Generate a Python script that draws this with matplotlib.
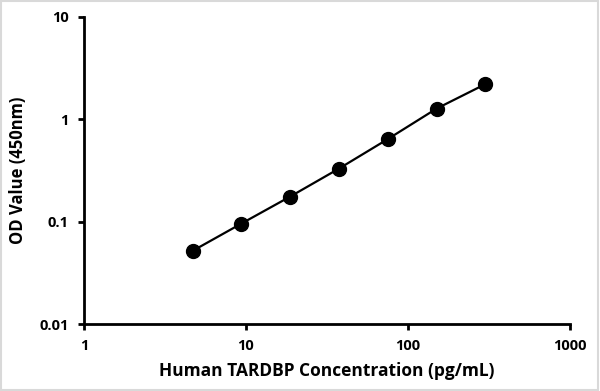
import matplotlib.pyplot as plt
from matplotlib.ticker import FixedLocator, NullLocator, FixedFormatter

# standard curve data
conc = [4.69, 9.38, 18.75, 37.5, 75, 150, 300]
od = [0.052, 0.096, 0.176, 0.33, 0.64, 1.27, 2.2]

x_ticks = [1, 10, 100, 1000]
x_labels = ['1', '10', '100', '1000']
y_ticks = [0.01, 0.1, 1, 10]
y_labels = ['0.01', '0.1', '1', '10']

plt.rcParams['font.family'] = ['Open Sans', 'DejaVu Sans']
plt.rcParams['font.weight'] = 'bold'

fig = plt.figure(figsize=(6, 3.91), dpi=100)
ax = fig.add_axes([0.14, 0.171, 0.81, 0.786])

ax.plot(conc, od, color='black', linewidth=1.6, marker='o',
        markersize=10, markerfacecolor='black', markeredgecolor='black')

ax.set_xscale('log')
ax.set_yscale('log')
ax.set_xlim(1, 1000)
ax.set_ylim(0.01, 10)

ax.xaxis.set_major_locator(FixedLocator(x_ticks))
ax.xaxis.set_major_formatter(FixedFormatter(x_labels))
ax.xaxis.set_minor_locator(NullLocator())
ax.yaxis.set_major_locator(FixedLocator(y_ticks))
ax.yaxis.set_major_formatter(FixedFormatter(y_labels))
ax.yaxis.set_minor_locator(NullLocator())

for s in ['top', 'right']:
    ax.spines[s].set_visible(False)
for s in ['left', 'bottom']:
    ax.spines[s].set_linewidth(2)

ax.tick_params(direction='out', length=4, width=2, labelsize=10.5, pad=7)
for lbl in ax.get_xticklabels() + ax.get_yticklabels():
    lbl.set_fontweight('bold')

ax.set_xlabel('Human TARDBP Concentration (pg/mL)', fontsize=12.5, fontweight='bold', labelpad=6)
ax.set_ylabel('OD Value (450nm)', fontsize=12, fontweight='bold', labelpad=9)

# light frame around the picture
fig.patches.append(plt.Rectangle((0.002, 0.003), 0.995, 0.994, transform=fig.transFigure,
                                 fill=False, edgecolor='#d9d9d9', linewidth=1.5))

fig.savefig('out.png', dpi=100)
